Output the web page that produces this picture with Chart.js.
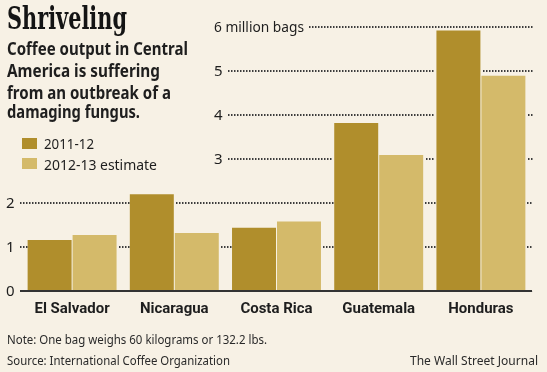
<!DOCTYPE html>
<html>
<head>
<meta charset="utf-8">
<script src="https://cdn.jsdelivr.net/npm/chart.js@4.4.1/dist/chart.umd.min.js"></script>
<style>
    html, body { margin: 0; padding: 0; background: #f7f1e5; }
    #wrap { position: relative; width: 547px; height: 372px; overflow: hidden; background: #f7f1e5; }
    #chart { position: absolute; left: 0; top: 0; }
    .txt { position: absolute; white-space: nowrap; color: #1e1e1e; transform-origin: 0 0; line-height: 1; }
    .bl { display: inline-block; width: 0; height: 0; vertical-align: baseline; }
    .title { font: bold 31px "DejaVu Serif", serif; color: #141414; }
    .sub { font: bold 17px "Noto Sans", sans-serif; }
    .leg { font: 15px "Noto Sans", sans-serif; }
    .note { font: 13px "Noto Sans", sans-serif; color: #2a2a2a; }
    .swatch { position: absolute; width: 15px; height: 11px; }
</style>
</head>
<body>
<div id="wrap">
    <canvas id="chart" width="547" height="372"></canvas>

    <div class="txt title" data-x="7" data-y="29" data-w="120">Shriveling</div>
    <div class="txt sub" data-x="7" data-y="54.5" data-w="181">Coffee output in Central</div>
    <div class="txt sub" data-x="7" data-y="76.5" data-w="153">America is suffering</div>
    <div class="txt sub" data-x="7" data-y="98.5" data-w="164">from an outbreak of a</div>
    <div class="txt sub" data-x="7" data-y="118" data-w="133">damaging fungus.</div>

    <div class="swatch" style="left:22px; top:138px; background:#b08e2c;"></div>
    <div class="swatch" style="left:22px; top:158px; background:#d4ba6a;"></div>
    <div class="txt leg" data-x="44" data-y="148.5" data-w="50">2011-12</div>
    <div class="txt leg" data-x="44" data-y="169.5" data-w="113">2012-13 estimate</div>

    <div class="txt note" data-x="7" data-y="343.5" data-w="260">Note: One bag weighs 60 kilograms or 132.2 lbs.</div>
    <div class="txt note" data-x="7" data-y="365" data-w="223">Source: International Coffee Organization</div>
    <div class="txt note" data-x="410" data-y="365" data-w="128">The Wall Street Journal</div>
</div>

<script>
const categories = ["El Salvador", "Nicaragua", "Costa Rica", "Guatemala", "Honduras"];
const output2011 = [1.16, 2.2, 1.44, 3.82, 5.92];
const output2012 = [1.27, 1.32, 1.58, 3.09, 4.89];
const yTicks = [0, 1, 2, 3, 4, 5, 6];
const yTickLabels = ["0", "1", "2", "3", "4", "5", "6 million bags"];

const darkGold = "#b08e2c";
const lightGold = "#d4ba6a";
const inkColor = "#1e1e1e";

// place html text by its baseline and squeeze it to the width in the picture
function placeTexts() {
    document.querySelectorAll(".txt").forEach((el) => {
        const marker = document.createElement("span");
        marker.className = "bl";
        el.appendChild(marker);
        el.style.left = el.dataset.x + "px";
        el.style.top = "0px";
        const baseline = marker.offsetTop;
        el.style.top = (Number(el.dataset.y) - baseline) + "px";
        const width = el.getBoundingClientRect().width;
        if (el.dataset.w && width > 0) {
            el.style.transform = `scaleX(${Number(el.dataset.w) / width})`;
        }
    });
}

function tickLayout(ctx, i) {
    const text = yTickLabels[i];
    const lx = yTicks[i] <= 2 ? 6 : 214;
    const maxW = i === yTicks.length - 1 ? 90 : 9;
    const w = Math.min(ctx.measureText(text).width, maxW);
    return { text, lx, maxW, w };
}

const axisPlugin = {
    id: "axisPlugin",
    beforeDatasetsDraw(chart) {
        const { ctx } = chart;
        const y = chart.scales.y;
        ctx.save();
        ctx.font = '15px "Noto Sans", sans-serif';
        ctx.textBaseline = "middle";
        ctx.textAlign = "left";
        ctx.fillStyle = inkColor;
        yTicks.forEach((v, i) => {
            const t = tickLayout(ctx, i);
            ctx.fillText(t.text, t.lx, y.getPixelForValue(v) + 0.5, t.maxW);
        });
        ctx.restore();
    },
    afterDraw(chart) {
        const { ctx, chartArea } = chart;
        const y = chart.scales.y;
        const bars = [];
        chart.data.datasets.forEach((ds, i) => {
            chart.getDatasetMeta(i).data.forEach((bar) => {
                const p = bar.getProps(["x", "y", "base", "width"], true);
                bars.push({ left: p.x - p.width / 2, right: p.x + p.width / 2, top: p.y, bottom: p.base });
            });
        });
        ctx.save();
        ctx.font = '15px "Noto Sans", sans-serif';
        ctx.fillStyle = "#3c3c3c";
        yTicks.forEach((v, i) => {
            if (v === 0) return;
            const t = tickLayout(ctx, i);
            const py = Math.round(y.getPixelForValue(v));
            // dotted rule behind the bars, one small dot every 3px
            for (let x = Math.round(t.lx + t.w + 5); x < chartArea.right; x += 3) {
                const hidden = bars.some((b) => x + 1.5 > b.left && x < b.right && py >= b.top && py <= b.bottom);
                if (!hidden) ctx.fillRect(x, py - 1, 1.5, 2);
            }
        });
        const py0 = y.getPixelForValue(0);
        ctx.beginPath();
        ctx.lineWidth = 2;
        ctx.strokeStyle = "#333";
        ctx.moveTo(20, py0);
        ctx.lineTo(chartArea.right, py0);
        ctx.stroke();
        ctx.restore();
    },
};

new Chart(document.getElementById("chart"), {
    type: "bar",
    data: {
        labels: categories,
        datasets: [
            { label: "2011-12", data: output2011, backgroundColor: darkGold },
            { label: "2012-13 estimate", data: output2012, backgroundColor: lightGold },
        ],
    },
    options: {
        responsive: false,
        animation: false,
        layout: { padding: { left: 21, right: 15, top: 27, bottom: 0 } },
        datasets: {
            bar: { categoryPercentage: 0.88, barPercentage: 0.978 },
        },
        plugins: {
            legend: { display: false },
            tooltip: { enabled: false },
        },
        scales: {
            x: {
                grid: { display: false, drawTicks: false },
                ticks: {
                    color: inkColor,
                    font: { family: "Roboto", size: 15, weight: "bold" },
                    padding: 9,
                    maxRotation: 0,
                },
                afterFit(scale) { scale.height = 81; },
            },
            y: {
                display: false,
                min: 0,
                max: 6,
            },
        },
    },
    plugins: [axisPlugin],
});

placeTexts();
</script>
</body>
</html>
